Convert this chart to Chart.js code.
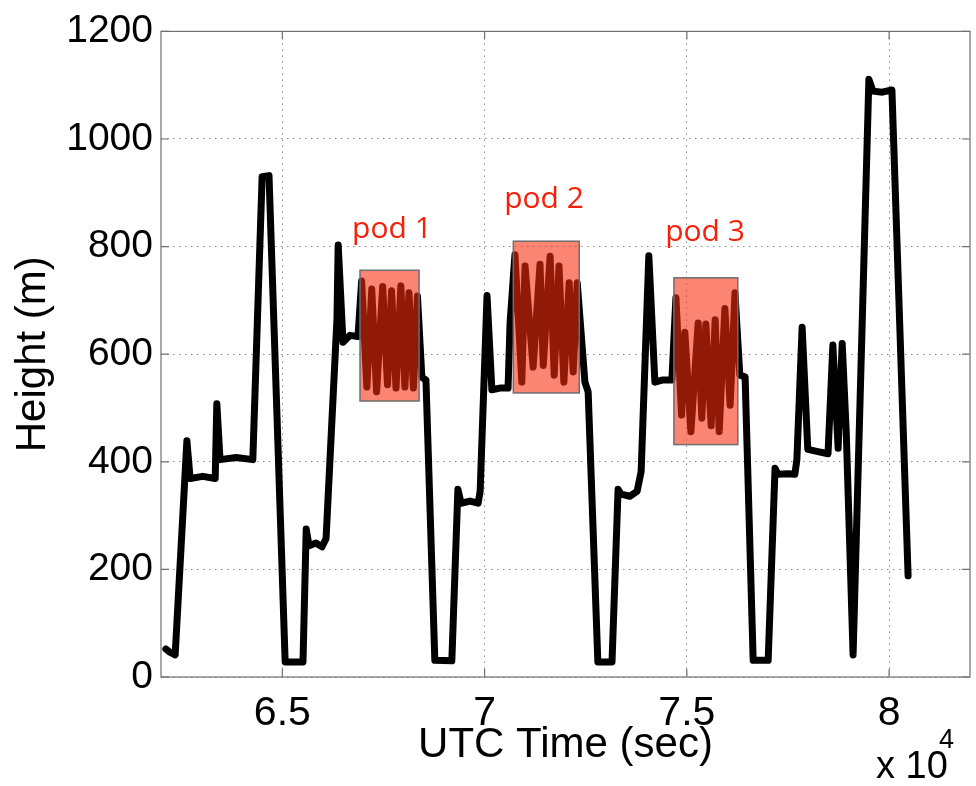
<!DOCTYPE html>
<html><head><meta charset="utf-8">
<script src="https://cdn.jsdelivr.net/npm/chart.js@4.4.1/dist/chart.umd.min.js"></script>
<style>html,body{margin:0;padding:0;background:#fff;}#wrap{width:976px;height:786px;}</style>
</head><body><div id="wrap"><canvas id="c" width="976" height="786"></canvas></div>
<script>
// ---- data (UTC time in seconds, height in metres) ----
const timeSec = [62120,62220,62350,62640,62720,63030,63340,63380,63460,63860,64270,64500,64670,65070,65510,65590,65660,65830,65980,66080,66350,66380,66500,66670,66870,
66960,67090,67210,67330,67480,67600,67700,67810,67930,68030,68130,68240,68340,68450,68550,68770,69190,69340,69420,69640,69840,69890,70060,70180,70380,70580,70630,
70750,70920,71000,71200,71370,71450,71620,71720,71840,71960,72090,72190,72290,72480,72560,72800,73150,73300,73370,73590,73770,73870,74060,74210,74390,74630,
74730,74870,74950,75100,75280,75370,75470,75600,75700,75800,75940,76070,76190,76310,76440,76640,77010,77180,77250,77500,77670,77720,77850,77990,78240,78490,
78610,78740,78840,78940,79110,79500,79600,79830,80070,80470];
const heightM = [52,46,41,439,369,373,369,508,404,408,404,930,932,28,28,275,244,249,242,257,665,803,622,635,633,
736,539,721,530,726,543,718,537,727,539,714,537,708,557,552,31,30,349,323,327,323,345,709,534,537,537,659,
785,548,764,576,767,579,782,561,764,548,733,567,733,548,530,28,28,349,340,336,345,382,783,548,552,552,
705,487,641,456,658,481,656,467,664,456,685,505,714,561,558,31,31,388,377,378,377,404,650,423,419,415,
617,425,620,456,41,1111,1089,1087,1091,188];
const xTickValues = [65000,70000,75000,80000];
const xTickLabels = ['6.5','7','7.5','8'];
const yTickValues = [0,200,400,600,800,1000,1200];
const yTickLabels = ['0','200','400','600','800','1000','1200'];
const podNames = ['pod 1','pod 2','pod 3'];
const podStart = [66920,70710,74680];
const podEnd = [68380,72340,76260];
const podLow = [513,528,432];
const podHigh = [756,810,742];
const podLabelX = [67710,71470,75450];
const podLabelY = [816,871,810];

const overlay = {
  id: 'overlay',
  afterDatasetsDraw(chart) {
    const {ctx, chartArea: a} = chart;
    const xs = chart.scales.x, ys = chart.scales.y;
    ctx.save();
    for (let i = 0; i < podNames.length; i++) {
      const x1 = xs.getPixelForValue(podStart[i]), x2 = xs.getPixelForValue(podEnd[i]);
      const y1 = ys.getPixelForValue(podHigh[i]), y2 = ys.getPixelForValue(podLow[i]);
      ctx.fillStyle = 'rgba(248,45,12,0.58)';
      ctx.fillRect(x1, y1, x2 - x1, y2 - y1);
      ctx.strokeStyle = '#6e6e6e';
      ctx.lineWidth = 1.5;
      ctx.strokeRect(x1, y1, x2 - x1, y2 - y1);
      ctx.fillStyle = '#f5200a';
      ctx.font = '30px "Open Sans"';
      ctx.textAlign = 'center';
      ctx.textBaseline = 'alphabetic';
      ctx.fillText(podNames[i], xs.getPixelForValue(podLabelX[i]), ys.getPixelForValue(podLabelY[i]));
    }
    ctx.strokeStyle = '#707070';
    ctx.lineWidth = 1.2;
    ctx.strokeRect(a.left, a.top, a.right - a.left, a.bottom - a.top);
    ctx.beginPath();
    xTickValues.forEach(v => {
      const px = xs.getPixelForValue(v);
      ctx.moveTo(px, a.bottom); ctx.lineTo(px, a.bottom - 8);
      ctx.moveTo(px, a.top); ctx.lineTo(px, a.top + 8);
    });
    yTickValues.forEach(v => {
      const py = ys.getPixelForValue(v);
      ctx.moveTo(a.left, py); ctx.lineTo(a.left + 8, py);
      ctx.moveTo(a.right, py); ctx.lineTo(a.right - 8, py);
    });
    ctx.stroke();
    ctx.fillStyle = '#000';
    ctx.textAlign = 'left';
    ctx.textBaseline = 'alphabetic';
    ctx.font = '38px "Liberation Sans"';
    ctx.fillText('x 10', 876, 778);
    ctx.font = '27px "Liberation Sans"';
    ctx.fillText('4', 939, 748);
    ctx.restore();
  }
};

const gridStyle = { color: '#8c8c8c', lineWidth: 1, drawTicks: false };

new Chart(document.getElementById('c'), {
  type: 'line',
  data: {
    datasets: [{
      data: timeSec.map((t, i) => ({x: t, y: heightM[i]})),
      borderColor: '#000',
      borderWidth: 7,
      pointRadius: 0,
      tension: 0,
      fill: false,
      borderJoinStyle: 'round',
      borderCapStyle: 'round'
    }]
  },
  options: {
    responsive: false,
    animation: false,
    layout: { padding: { top: 27, right: 6, left: 0, bottom: 0 } },
    plugins: { legend: { display: false }, tooltip: { enabled: false } },
    scales: {
      x: {
        type: 'linear', min: 62000, max: 82000,
        afterBuildTicks: s => { s.ticks = xTickValues.map(v => ({value: v})); },
        afterFit: s => { s.height = 109; },
        ticks: {
          autoSkip: false, maxRotation: 0, padding: 12, color: '#000',
          font: { family: 'Liberation Sans', size: 41 },
          callback: v => xTickLabels[xTickValues.indexOf(v)]
        },
        grid: gridStyle,
        border: { display: false, dash: [1.5, 4.5] },
        title: { display: true, text: 'UTC Time (sec)', color: '#000',
          font: { family: 'Liberation Sans', size: 42 }, padding: { top: 0, bottom: 15 } }
      },
      y: {
        min: 0, max: 1200,
        afterBuildTicks: s => { s.ticks = yTickValues.map(v => ({value: v})); },
        afterFit: s => { s.width = 161; },
        ticks: { padding: 8, color: '#000', font: { family: 'Liberation Sans', size: 39 },
          callback: v => yTickLabels[yTickValues.indexOf(v)] },
        grid: gridStyle,
        border: { display: false, dash: [1.5, 4.5] },
        title: { display: true, text: 'Height (m)', color: '#000',
          font: { family: 'Liberation Sans', size: 42 }, padding: { top: 8, bottom: 0 } }
      }
    }
  },
  plugins: [overlay]
});
</script></body></html>
